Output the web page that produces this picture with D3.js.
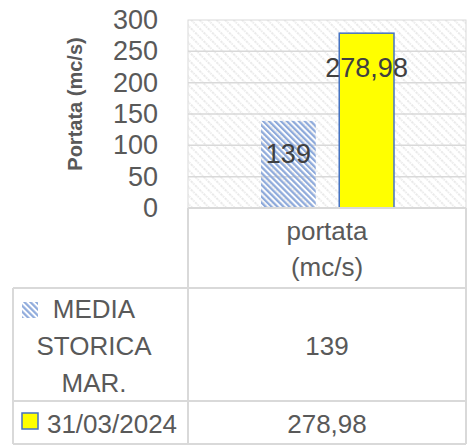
<!DOCTYPE html>
<html>
<head>
<meta charset="utf-8">
<script src="https://cdn.jsdelivr.net/npm/d3@7"></script>
<style>
body { margin:0; background:#fff; }
text { font-family:"Liberation Sans", Arial, sans-serif; }
</style>
</head>
<body>
<svg id="chart" width="471" height="446"></svg>
<script>
// data
var categories = ["portata (mc/s)"];
var seriesNames = ["MEDIA STORICA MAR.", "31/03/2024"];
var seriesValues = [139, 278.98];
var seriesLabels = ["139", "278,98"];
var yTicks = [0, 50, 100, 150, 200, 250, 300];
var headerLines = ["portata", "(mc/s)"];
var nameLines = [["MEDIA", "STORICA", "MAR."], ["31/03/2024"]];

var svg = d3.select("#chart");
var grey = "#595959", line = "#d9d9d9";

var defs = svg.append("defs");
defs.append("pattern").attr("id", "bgHatch")
    .attr("patternUnits", "userSpaceOnUse").attr("width", 6).attr("height", 6)
    .attr("patternTransform", "rotate(-45)")
    .append("line").attr("x1", 1).attr("y1", 0).attr("x2", 1).attr("y2", 6)
    .attr("stroke", "#d4d4d4").attr("stroke-width", 1).attr("stroke-dasharray", "1.5 1");
defs.append("pattern").attr("id", "blueHatch")
    .attr("patternUnits", "userSpaceOnUse").attr("width", 4.2).attr("height", 4.2)
    .attr("patternTransform", "rotate(-45)")
    .append("rect").attr("x", 0).attr("y", 0).attr("width", 2.2).attr("height", 4.2)
    .attr("fill", "#8eaadb");

var plotL = 188, plotR = 466, plotT = 20, plotB = 208;
var y = d3.scaleLinear().domain([0, 300]).range([plotB, plotT]);
var x0 = d3.scaleBand().domain(categories).range([plotL, plotR]);
var x1 = d3.scaleBand().domain(seriesNames).range([261 - plotL, 394 - plotL]).paddingInner(0.3);

// plot area
svg.append("rect").attr("x", plotL).attr("y", plotT).attr("width", plotR - plotL).attr("height", plotB - plotT)
    .attr("fill", "url(#bgHatch)").attr("stroke", line);

svg.append("g").selectAll("line").data(yTicks.slice(1, -1)).join("line")
    .attr("x1", plotL).attr("x2", plotR).attr("y1", function(d){ return y(d); }).attr("y2", function(d){ return y(d); })
    .attr("stroke", line).attr("stroke-width", 1.5);

// y axis labels
var yAxis = d3.axisLeft(y).tickValues(yTicks).tickSize(0).tickPadding(0);
var ga = svg.append("g").attr("transform", "translate(158,0)").call(yAxis);
ga.select(".domain").remove();
ga.selectAll("text").attr("font-size", 27).attr("fill", grey).attr("font-family", "Liberation Sans, Arial, sans-serif");

svg.append("text").attr("transform", "translate(82,104) rotate(-90)")
    .attr("text-anchor", "middle").attr("font-size", 20).attr("font-weight", "bold").attr("fill", grey)
    .text("Portata (mc/s)");

// bars
var fills = ["url(#blueHatch)", "#ffff00"];
var strokes = ["none", "#4472c4"];
var g = svg.append("g").attr("transform", "translate(" + x0(categories[0]) + ",0)");
g.selectAll("rect").data(seriesValues).join("rect")
    .attr("x", function(d, i){ return x1(seriesNames[i]); })
    .attr("width", x1.bandwidth())
    .attr("y", function(d){ return y(d); })
    .attr("height", function(d){ return plotB - y(d); })
    .attr("fill", function(d, i){ return fills[i]; })
    .attr("stroke", function(d, i){ return strokes[i]; }).attr("stroke-width", 1.5);

// data labels
g.selectAll("text").data(seriesValues).join("text")
    .attr("x", function(d, i){ return x1(seriesNames[i]) + x1.bandwidth() / 2; })
    .attr("y", function(d, i){ return i == 1 ? 77 : y(d) + 42; })
    .attr("text-anchor", "middle").attr("font-size", 27).attr("fill", "#404040")
    .text(function(d, i){ return seriesLabels[i]; });

// data table
var tl = 13, rows = [208, 288, 401, 444];
var tb = svg.append("g").attr("stroke", line).attr("stroke-width", 2).attr("fill", "none");
tb.append("line").attr("x1", plotL).attr("x2", plotR).attr("y1", rows[0]).attr("y2", rows[0]);
tb.append("line").attr("x1", tl).attr("x2", plotR).attr("y1", rows[1]).attr("y2", rows[1]);
tb.append("line").attr("x1", tl).attr("x2", plotR).attr("y1", rows[2]).attr("y2", rows[2]);
tb.append("line").attr("x1", tl).attr("x2", plotR).attr("y1", rows[3]).attr("y2", rows[3]);
tb.append("line").attr("x1", tl).attr("x2", tl).attr("y1", rows[1]).attr("y2", rows[3]);
tb.append("line").attr("x1", plotL).attr("x2", plotL).attr("y1", rows[0]).attr("y2", rows[3]);
tb.append("line").attr("x1", plotR).attr("x2", plotR).attr("y1", rows[0]).attr("y2", rows[3]);

var cx = x0(categories[0]) + x0.bandwidth() / 2;
svg.append("g").selectAll("text").data(headerLines).join("text")
    .attr("x", cx).attr("y", function(d, i){ return 240 + i * 36; })
    .attr("text-anchor", "middle").attr("font-size", 26).attr("fill", grey)
    .text(function(d){ return d; });

var rowMid = [(rows[1] + rows[2]) / 2, (rows[2] + rows[3]) / 2];
seriesNames.forEach(function(s, i) {
    var ls = nameLines[i];
    var keyY = i == 0 ? 302 : 413;
    svg.append("rect").attr("x", 22).attr("y", keyY).attr("width", 16).attr("height", 16)
        .attr("fill", fills[i]).attr("stroke", i == 1 ? "#4472c4" : "none").attr("stroke-width", 1.5);
    svg.append("g").selectAll("text").data(ls).join("text")
        .attr("x", i == 0 ? 94 : 112).attr("y", function(d, j){ return rowMid[i] + 10 + (j - (ls.length - 1) / 2) * 37; })
        .attr("text-anchor", "middle").attr("font-size", 26).attr("fill", grey)
        .text(function(d){ return d; });
    svg.append("text").attr("x", cx).attr("y", rowMid[i] + 10)
        .attr("text-anchor", "middle").attr("font-size", 26).attr("fill", grey)
        .text(seriesLabels[i]);
});
</script>
</body>
</html>
